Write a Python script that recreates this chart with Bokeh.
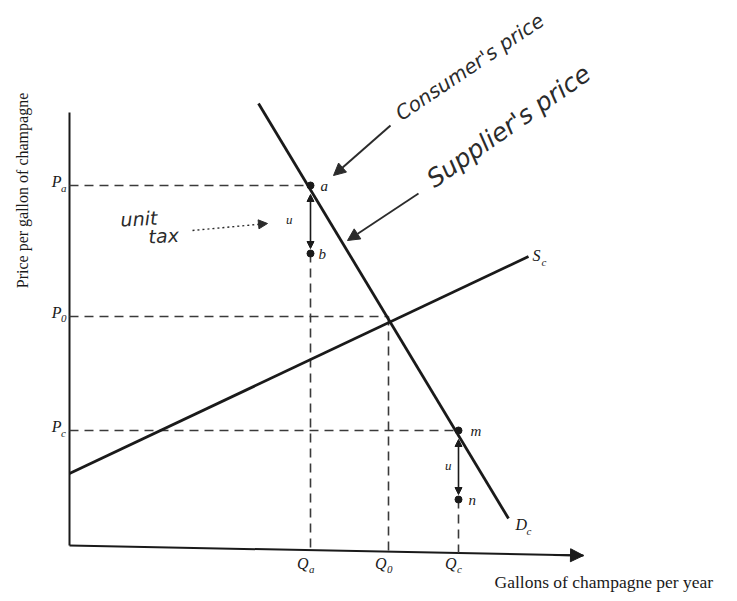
import math
from bokeh.plotting import figure
from bokeh.models import Arrow, NormalHead
from bokeh.core.properties import value
from bokeh.embed import file_html
from bokeh.resources import INLINE

# ---- data (abstract units) ----
Qa, Q0, Qc = 24.1, 31.9, 38.9
Pa, Pb, P0, Pc, Pn = 36.0, 29.2, 22.9, 11.5, 4.6
demand_q = [18.9, 43.9]
demand_p = [44.2, 2.7]
supply_q = [0.0, 45.9]
supply_p = [7.2, 28.9]
axis_x_end = [51.4, -1.0]
axis_y_top = 43.3
price_labels = ["a", "0", "c"]
qty_labels = ["a", "0", "c"]
x_title = "Gallons of champagne per year"
y_title = "Price per gallon of champagne"
note_consumer = "Consumer's price"
note_supplier = "Supplier's price"
note_tax = ["unit", "tax"]

SERIF = value("Liberation Serif")
INK = "#1a1a1a"
DASH = "#3a3a3a"

p = figure(width=729, height=593, x_range=(-6.9, 66.0), y_range=(-4.8, 54.5),
           output_backend="svg", toolbar_location=None, min_border=0)
p.axis.visible = False
p.grid.visible = False
p.outline_line_color = None
p.background_fill_color = "white"

slope_ax = axis_x_end[1] / axis_x_end[0]
def axis_y(x):
    return slope_ax * x

# axes
p.segment(x0=[0], y0=[0], x1=[0], y1=[axis_y_top], line_color=INK, line_width=2)
p.segment(x0=[0], y0=[0], x1=[axis_x_end[0]], y1=[axis_x_end[1]], line_color=INK, line_width=2)
p.add_layout(Arrow(end=NormalHead(size=13, fill_color=INK, line_color=INK),
                   x_start=axis_x_end[0] - 3, y_start=axis_y(axis_x_end[0] - 3),
                   x_end=axis_x_end[0], y_end=axis_x_end[1], line_color=INK, line_width=2))

# dashed guides
Ps = [Pa, P0, Pc]
Qs = [Qa, Q0, Qc]
p.segment(x0=[0, 0, 0], y0=Ps, x1=Qs, y1=Ps, line_color=DASH, line_width=1.6, line_dash="9 6")
tops = [Pb, P0, Pn]
p.segment(x0=Qs, y0=tops, x1=Qs, y1=[axis_y(q) for q in Qs], line_color=DASH,
          line_width=1.6, line_dash="9 6")

# demand and supply
p.line(demand_q, demand_p, line_color=INK, line_width=2.8)
p.line(supply_q, supply_p, line_color=INK, line_width=2.8)

# tax wedges with double arrows
for q, hi, lo in [(Qa, Pa, Pb), (Qc, Pc, Pn)]:
    p.add_layout(Arrow(start=NormalHead(size=7, fill_color=INK, line_color=INK),
                       end=NormalHead(size=7, fill_color=INK, line_color=INK),
                       x_start=q, y_start=hi - 0.9, x_end=q, y_end=lo + 0.5,
                       line_color=INK, line_width=1.6))
p.scatter(x=[Qa, Qa, Qc, Qc], y=[Pa, Pb, Pc, Pn], size=7, color=INK)

# price labels
lab_kw = dict(text_font=SERIF, text_font_style="italic", text_color=INK, text_baseline="middle")
p.text(x=[-0.8] * 3, y=[v + 0.4 for v in Ps], text=["P"] * 3, text_align="right",
       text_font_size="16px", **lab_kw)
p.text(x=[-0.85] * 3, y=[v - 0.2 for v in Ps], text=price_labels, text_align="left",
       text_font_size="11px", **lab_kw)
# quantity labels
p.text(x=[q - 0.2 for q in Qs], y=[-1.8] * 3, text=["Q"] * 3, text_align="right",
       text_font_size="16px", **lab_kw)
p.text(x=[q - 0.15 for q in Qs], y=[-2.35] * 3, text=qty_labels, text_align="left",
       text_font_size="11px", **lab_kw)

# point labels
p.text(x=[Qa + 1.0, Qa + 0.8, Qc + 1.2, Qc + 1.0], y=[Pa, Pb, Pc, Pn],
       text=["a", "b", "m", "n"], text_align="left", text_font_size="15px", **lab_kw)
p.text(x=[Qa - 1.8, Qc - 0.7], y=[(Pa + Pb) / 2, (Pc + Pn) / 2], text=["u", "u"],
       text_align="right", text_font_size="13px", **lab_kw)

# curve labels
p.text(x=[supply_q[1] + 0.4, demand_q[1] + 0.7], y=[supply_p[1] + 0.1, demand_p[1] - 0.6],
       text=["S", "D"], text_align="left", text_font_size="16px", **lab_kw)
p.text(x=[supply_q[1] + 1.3, demand_q[1] + 1.8], y=[supply_p[1] - 0.5, demand_p[1] - 1.2],
       text=["c", "c"], text_align="left", text_font_size="11px", **lab_kw)

# axis titles
p.text(x=[42.5], y=[-3.6], text=[x_title], text_align="left", text_baseline="middle",
       text_font=SERIF, text_font_size="17.5px", text_color=INK)
p.text(x=[-4.7], y=[35.5], text=[y_title], text_align="center", text_baseline="middle",
       angle=math.pi / 2, text_font=SERIF, text_font_size="16px", text_color=INK)

# handwritten notes
HAND = "#2b2b2b"
hand_kw = dict(text_font=value("DejaVu Sans"), text_font_style="italic", text_color=HAND,
               text_baseline="alphabetic", text_align="left")
p.text(x=[32.8], y=[43.0], text=[note_consumer], angle=math.radians(34),
       text_font_size="20px", **hand_kw)
p.text(x=[36.0], y=[36.4], text=[note_supplier], angle=math.radians(35),
       text_font_size="25px", **hand_kw)
p.text(x=[5.1, 7.9], y=[32.6, 30.9], text=note_tax, angle=0.05,
       text_font_size="19px", **hand_kw)

# hand-drawn arrows
p.add_layout(Arrow(end=NormalHead(size=12, fill_color=HAND, line_color=HAND),
                   x_start=32.1, y_start=42.0, x_end=26.4, y_end=37.0,
                   line_color=HAND, line_width=2))
p.add_layout(Arrow(end=NormalHead(size=12, fill_color=HAND, line_color=HAND),
                   x_start=34.9, y_start=35.2, x_end=27.8, y_end=30.5,
                   line_color=HAND, line_width=1.8))
p.add_layout(Arrow(end=NormalHead(size=9, fill_color=HAND, line_color=HAND),
                   x_start=12.3, y_start=31.5, x_end=19.8, y_end=32.2,
                   line_color=HAND, line_width=1.4, line_dash="2 3"))

open("out.html", "w").write(file_html(p, INLINE))
